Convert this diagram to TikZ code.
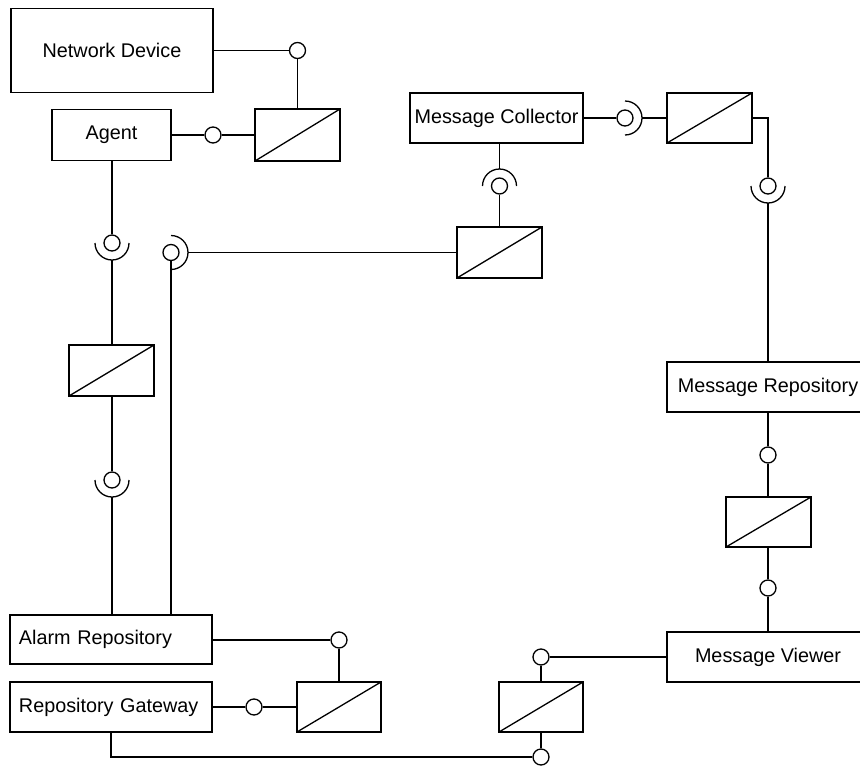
\documentclass[tikz,border=0pt]{standalone}
\usepackage{fontspec}
\setmainfont{Liberation Sans}
\begin{document}
\begin{tikzpicture}[x=1pt, y=-1pt, line width=1.3pt,
  comp/.style={draw, rectangle, inner sep=0pt, fill=white,
    font=\fontsize{19.8pt}{24pt}\selectfont},
  leftlabel/.style={text width=184pt, align=left},
  conv/.style={draw, rectangle, inner sep=0pt, fill=white,
    minimum width=85pt, minimum height=51pt,
    path picture={\draw (path picture bounding box.south west)
      -- (path picture bounding box.north east);}},
  ball/.style={draw, circle, minimum size=16pt, inner sep=0pt, fill=white}]

\useasboundingbox (0,0) rectangle (860,766);
\fill[white] (0,0) rectangle (860,766);
\clip (0,0) rectangle (860,766);

% components
\node[comp, minimum width=202pt, minimum height=84pt] (nd) at (112,50.5) {Network Device};
\node[comp, minimum width=119pt, minimum height=51pt] (agent) at (111.5,135) {Agent};
\node[comp, minimum width=173pt, minimum height=50pt] (mc) at (496.5,118) {Message Collector};
\node[comp, minimum width=202pt, minimum height=50pt] (mr) at (768,387) {Message Repository};
\node[comp, minimum width=202pt, minimum height=50pt] (mv) at (768,657) {Message Viewer};
\node[comp, leftlabel, minimum width=202pt, minimum height=49pt, inner xsep=9pt] (ar) at (111,639.5) {Alarm Repository};
\node[comp, leftlabel, minimum width=202pt, minimum height=50pt, inner xsep=9pt] (rg) at (111,707) {Repository Gateway};

% converters
\node[conv, minimum height=52pt] (cv1) at (297.5,135) {};
\node[conv] (cv2) at (499.5,252.5) {};
\node[conv, minimum height=50pt] (cv3) at (709.5,118) {};
\node[conv, minimum height=50pt] (cv4) at (768.5,522) {};
\node[conv, minimum width=84pt, minimum height=50pt] (cv5) at (541,707) {};
\node[conv, minimum width=84pt, minimum height=50pt] (cv6) at (339,707) {};
\node[conv] (cv7) at (111.5,370.5) {};

% provided interfaces
\node[ball] (b1) at (297.5,50.5) {};
\node[ball] (b2) at (213,135) {};
\node[ball] (b4) at (768,455) {};
\node[ball] (b5) at (768,588) {};
\node[ball] (b6) at (541,657) {};
\node[ball] (b7) at (541,757) {};
\node[ball] (b8) at (339,640) {};
\node[ball] (b9) at (254,707) {};

% assembly connectors (ball and socket)
\node[ball] (s1) at (499.5,186) {};
\node[ball] (s2) at (625,118) {};
\node[ball] (s3) at (768,186) {};
\node[ball] (s4) at (112,243) {};
\node[ball] (s5) at (112,480) {};
\node[ball] (s6) at (171,252.5) {};

\draw ([xshift=17pt]s1.center) arc[start angle=0, end angle=180, radius=17pt];
\draw ([yshift=-17pt]s2.center) arc[start angle=-90, end angle=90, radius=17pt];
\draw ([xshift=-17pt]s3.center) arc[start angle=180, end angle=360, radius=17pt];
\draw ([xshift=-17pt]s4.center) arc[start angle=180, end angle=360, radius=17pt];
\draw ([xshift=-17pt]s5.center) arc[start angle=180, end angle=360, radius=17pt];
\draw ([yshift=-17pt]s6.center) arc[start angle=-90, end angle=90, radius=17pt];

\coordinate (s1t) at ([yshift=17pt]s1.center);
\coordinate (s2r) at ([xshift=17pt]s2.center);
\coordinate (s3b) at ([yshift=-17pt]s3.center);
\coordinate (s4b) at ([yshift=-17pt]s4.center);
\coordinate (s5b) at ([yshift=-17pt]s5.center);
\coordinate (s6r) at ([xshift=17pt]s6.center);

% connectors
\draw (nd.east |- b1) -- (b1.west);
\draw (b1.south) -- (cv1.north);
\draw (agent.east) -- (b2.west);
\draw (b2.east) -- (cv1.west);

\draw (s4 |- agent.south) -- (s4.north);
\draw (s4b) -- (s4 |- cv7.north);
\draw (s5 |- cv7.south) -- (s5.north);
\draw (s5b) -- (s5 |- ar.north);

\draw (s6.south) -- (s6 |- ar.north);
\draw (s6r) -- (cv2.west);

\draw (s1t) -- (s1 |- mc.south);
\draw (s1.south) -- (cv2.north);
\draw (mc.east) -- (s2.west);
\draw (s2r) -- (cv3.west);
\draw (cv3.east) -| (s3.north);
\draw (s3b) -- (s3 |- mr.north);

\draw (s3 |- mr.south) -- (b4.north);
\draw (b4.south) -- (b4 |- cv4.north);
\draw (b4 |- cv4.south) -- (b5.north);
\draw (b5.south) -- (b5 |- mv.north);

\draw (mv.west |- b6) -- (b6.east);
\draw (b6.south) -- (cv5.north);
\draw (cv5.south) -- (b7.north);
\draw (rg.south) -- (rg.south |- b7) -- (b7.west);

\draw (ar.east |- b8) -- (b8.west);
\draw (b8.south) -- (cv6.north);
\draw (rg.east) -- (b9.west);
\draw (b9.east) -- (cv6.west);
\end{tikzpicture}
\end{document}
